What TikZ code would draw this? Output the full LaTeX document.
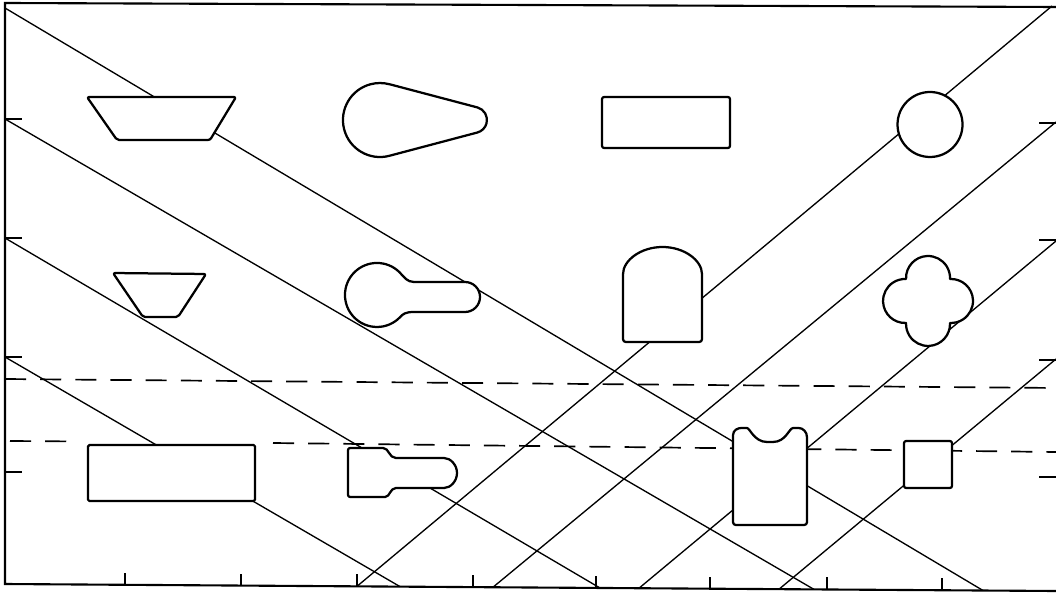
\documentclass[tikz,border=0pt]{standalone}
\usepackage{tikz}

\begin{document}
\begin{tikzpicture}[
  x=0.025cm, y=-0.025cm,
  frame/.style={line width=1.5pt},
  guide/.style={line width=0.95pt},
  cutline/.style={line width=1.2pt, dash pattern=on 15pt off 10pt},
  part/.style={draw, fill=white, line width=1.6pt, line join=round}
]
\useasboundingbox (0,0) rectangle (1056,596);

\coordinate (L1) at (5,8);
\coordinate (L2) at (5,119);
\coordinate (L3) at (5,238);
\coordinate (L4) at (5,357);
\coordinate (R1) at (1052,6);
\coordinate (R2) at (1056,122);
\coordinate (R3) at (1056,241);
\coordinate (R4) at (1056,359);
\coordinate (B1) at (983,590.5);
\coordinate (B2) at (814,589.4);
\coordinate (B3) at (600,588);
\coordinate (B4) at (400,586.6);
\coordinate (B5) at (357,586.3);
\coordinate (B6) at (493,587.2);
\coordinate (B7) at (639,588.2);
\coordinate (B8) at (779,589.2);

\draw[frame] (1056,7) -- (5,3) -- (5,584) -- (1056,591);
\foreach \y in {119,238,357,472}
  \draw[frame] (5,\y) -- ++(17,0);
\foreach \y in {123,240,360,477}
  \draw[frame] (1056,\y) -- ++(-17,0);
\foreach \x in {125,241,357,473,596,710,827,942}
  \draw[frame] (\x,{584+(\x-5)*0.00666}) -- ++(0,-12);

\draw[guide] (L1) -- (B1);
\draw[guide] (L2) -- (B2);
\draw[guide] (L3) -- (B3);
\draw[guide] (L4) -- (B4);
\draw[guide] (R1) -- (B5);
\draw[guide] (R2) -- (B6);
\draw[guide] (R3) -- (B7);
\draw[guide] (R4) -- (B8);

\draw[cutline] (5,379) -- (1056,388);
\draw[cutline] (10,441) -- (68,441.4);
\draw[cutline] (273,443) -- (1056,452);

\draw[part, rounded corners=1.5pt] (87,97) -- (236,97) -- (210,140) -- (117,140) -- cycle;
\draw[part] (389.4,84.2) -- (477.3,107.4) arc[start angle=-75.2, end angle=75.2, radius=13]
  -- (389.4,155.8) arc[start angle=75.2, end angle=284.8, radius=37] -- cycle;
\draw[part, rounded corners=1.5pt] (602,97) rectangle (730,148);
\draw[part] (930,124.5) circle[radius=32.5];

\draw[part, rounded corners=1.5pt] (113,273) -- (206,274) -- (178,317) -- (143,317) -- cycle;
\draw[part] (465,282) arc[start angle=-90, end angle=90, radius=15] -- (414,312)
  .. controls (405,312) and (403,314) .. (399.6,317.6)
  arc[start angle=45, end angle=315, radius=32]
  .. controls (404,277) and (407,282) .. (414,282) -- cycle;
\draw[part, rounded corners=2pt] (623,342) -- (623,277)
  arc[x radius=39.5, y radius=30, start angle=180, end angle=360] -- (702,342) -- cycle;
\draw[part] (950,279) arc[start angle=-92.6, end angle=92.6, radius=22]
  arc[start angle=-2.6, end angle=182.6, radius=22]
  arc[start angle=87.4, end angle=272.6, radius=22]
  arc[start angle=177.4, end angle=362.6, radius=22] -- cycle;

\draw[part, rounded corners=1pt] (88,445) rectangle (255,501);
\draw[part, rounded corners=1.5pt] (348,448) -- (381,448)
  .. controls (389,448) and (389,458) .. (398,458) -- (442,458)
  arc[start angle=-90, end angle=90, radius=15] -- (398,488)
  .. controls (390,488) and (390,497) .. (383,497) -- (348,497) -- cycle;
\draw[part, rounded corners=2pt] (733,525) -- (733,438)
  .. controls (733,430) and (738,428) .. (744,428)
  .. controls (750,428) and (754,442) .. (770,442)
  .. controls (786,442) and (789,428) .. (796,428)
  .. controls (803,428) and (807,432) .. (807,440) -- (807,525) -- cycle;
\draw[part, rounded corners=1.5pt] (904,441) rectangle (952,488);
\end{tikzpicture}
\end{document}
